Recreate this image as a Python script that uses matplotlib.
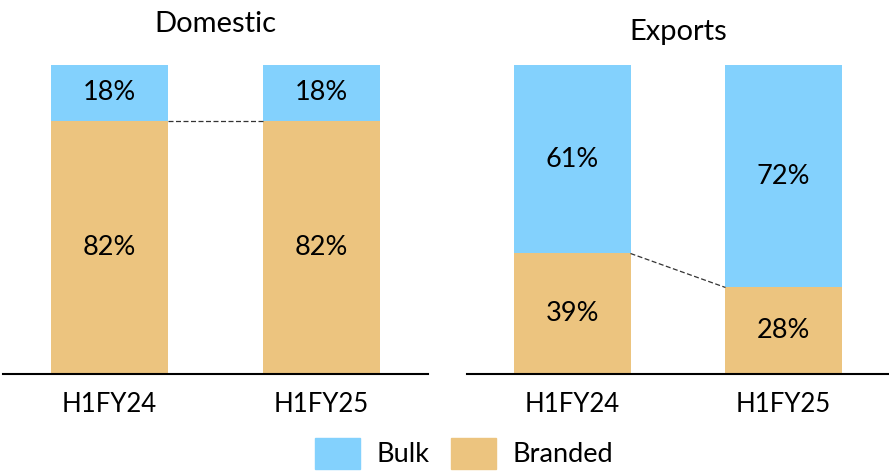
import numpy as np
import matplotlib.pyplot as plt
from matplotlib.patches import Patch

plt.rcParams['font.family'] = ['Lato', 'DejaVu Sans']

periods = ['H1FY24', 'H1FY25']
panels = ['Domestic', 'Exports']
branded = {'Domestic': [82, 82], 'Exports': [39, 28]}
bulk = {'Domestic': [18, 18], 'Exports': [61, 72]}
title_pad = {'Domestic': 24, 'Exports': 18}

c_bulk = '#83D1FD'
c_branded = '#ECC47F'

fig = plt.figure(figsize=(8.89, 4.72), dpi=100)
bottom = (472 - 374) / 472
height = (374 - 65) / 472
axes = [fig.add_axes([3 / 889, bottom, 425 / 889, height]),
        fig.add_axes([467 / 889, bottom, 422 / 889, height])]

w = 0.55
x = np.arange(len(periods))
for ax, name in zip(axes, panels):
    br = np.array(branded[name])
    bk = np.array(bulk[name])
    ax.bar(x, br, w, color=c_branded)
    ax.bar(x, bk, w, bottom=br, color=c_bulk)
    for i in range(len(x)):
        ax.text(x[i], br[i] / 2, f'{br[i]}%', ha='center', va='center', fontsize=19.5)
        ax.text(x[i], br[i] + bk[i] / 2, f'{bk[i]}%', ha='center', va='center', fontsize=19.5)
    ax.plot([x[0] + w / 2, x[1] - w / 2], [br[0], br[1]], ls='--', color='#333333', lw=0.9, dashes=(4, 2))
    ax.set_xlim(-0.5, 1.5)
    ax.set_ylim(0, 100)
    ax.set_xticks(x)
    ax.set_xticklabels(periods, fontsize=18.5)
    ax.tick_params(axis='x', length=0, pad=13)
    ax.set_yticks([])
    for s in ['top', 'right', 'left']:
        ax.spines[s].set_visible(False)
    ax.spines['bottom'].set_linewidth(1.5)
    ax.set_title(name, fontsize=21, pad=title_pad[name])

handles = [Patch(color=c_bulk, label='Bulk'), Patch(color=c_branded, label='Branded')]
fig.legend(handles=handles, loc='lower center', bbox_to_anchor=(0.522, -0.045), ncol=2,
           frameon=False, fontsize=19.5, handlelength=1.65, handleheight=1.4,
           columnspacing=0.8, handletextpad=0.6)

fig.savefig('out.png', dpi=100)
